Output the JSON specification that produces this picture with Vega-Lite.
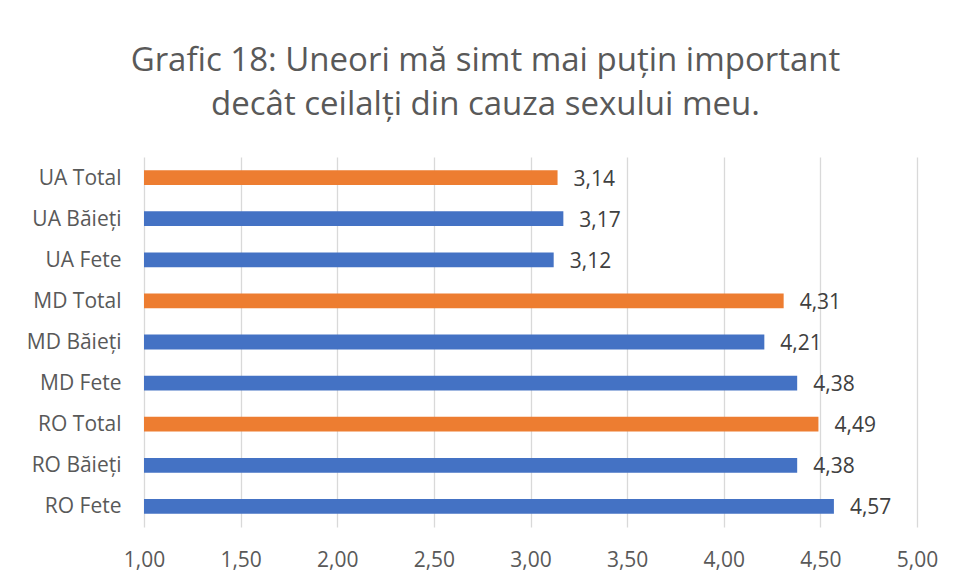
{
  "$schema": "https://vega.github.io/schema/vega-lite/v6.json",
  "autosize": {"type": "none"},
  "width": 773,
  "height": 370,
  "padding": {"left": 144, "top": 157, "right": 41, "bottom": 54},
  "background": "white",
  "config": {
    "locale": {"number": {"decimal": ",", "thousands": ".", "grouping": [3], "currency": ["", " lei"]}},
    "view": {"stroke": null},
    "font": "Open Sans"
  },
  "title": {
    "text": ["Grafic 18: Uneori mă simt mai puțin important", "decât ceilalți din cauza sexului meu."],
    "font": "Open Sans",
    "fontSize": 33,
    "fontWeight": "normal",
    "color": "#595959",
    "anchor": "middle",
    "frame": "group",
    "dx": -45,
    "offset": 35,
    "lineHeight": 44
  },
  "data": {
    "values": [
      {"group": "UA Total", "type": "Total", "value": 3.14},
      {"group": "UA Băieți", "type": "Gen", "value": 3.17},
      {"group": "UA Fete", "type": "Gen", "value": 3.12},
      {"group": "MD Total", "type": "Total", "value": 4.31},
      {"group": "MD Băieți", "type": "Gen", "value": 4.21},
      {"group": "MD Fete", "type": "Gen", "value": 4.38},
      {"group": "RO Total", "type": "Total", "value": 4.49},
      {"group": "RO Băieți", "type": "Gen", "value": 4.38},
      {"group": "RO Fete", "type": "Gen", "value": 4.57}
    ]
  },
  "encoding": {
    "y": {
      "field": "group",
      "type": "nominal",
      "sort": null,
      "scale": {"paddingInner": 0.64, "paddingOuter": 0.32},
      "axis": {
        "title": null,
        "ticks": false,
        "domain": false,
        "labelPadding": 23,
        "labelFont": "Open Sans",
        "labelFontSize": 21,
        "labelColor": "#595959",
        "labelOffset": 1
      }
    },
    "x": {
      "field": "value",
      "type": "quantitative",
      "scale": {"domain": [1, 5], "nice": false, "zero": false},
      "axis": {
        "title": null,
        "values": [1, 1.5, 2, 2.5, 3, 3.5, 4, 4.5, 5],
        "format": ".2f",
        "ticks": false,
        "domain": false,
        "grid": true,
        "gridColor": "#d9d9d9",
        "gridWidth": 1.3,
        "labelPadding": 22,
        "labelFont": "Open Sans",
        "labelFontSize": 21,
        "labelColor": "#595959",
        "labelFlush": false
      }
    }
  },
  "layer": [
    {
      "mark": {"type": "bar"},
      "encoding": {
        "x2": {"datum": 1},
        "color": {
          "field": "type",
          "type": "nominal",
          "scale": {"domain": ["Total", "Gen"], "range": ["#ED7D31", "#4472C4"]},
          "legend": null
        }
      }
    },
    {
      "mark": {"type": "text", "align": "left", "baseline": "middle", "dx": 16, "dy": 2, "fontSize": 21, "font": "Open Sans", "color": "#404040"},
      "encoding": {
        "text": {"field": "value", "type": "quantitative", "format": ".2f"}
      }
    }
  ]
}
